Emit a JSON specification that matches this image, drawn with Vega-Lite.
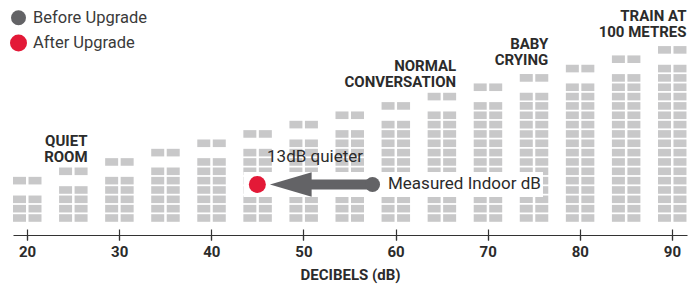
{
  "$schema": "https://vega.github.io/schema/vega-lite/v6.json",
  "width": 674,
  "height": 230,
  "autosize": "none",
  "padding": {"left": 13, "top": 5, "right": 10, "bottom": 49},
  "background": "white",
  "config": {"view": {"stroke": null}, "font": "Roboto"},
  "datasets": {
    "blocks": [
      {"dB":20,"row":0},{"dB":20,"row":1},{"dB":20,"row":2},{"dB":20,"row":4},
      {"dB":25,"row":0},{"dB":25,"row":1},{"dB":25,"row":2},{"dB":25,"row":3},{"dB":25,"row":5},
      {"dB":30,"row":0},{"dB":30,"row":1},{"dB":30,"row":2},{"dB":30,"row":3},{"dB":30,"row":4},{"dB":30,"row":6},
      {"dB":35,"row":0},{"dB":35,"row":1},{"dB":35,"row":2},{"dB":35,"row":3},{"dB":35,"row":4},{"dB":35,"row":5},{"dB":35,"row":7},
      {"dB":40,"row":0},{"dB":40,"row":1},{"dB":40,"row":2},{"dB":40,"row":3},{"dB":40,"row":4},{"dB":40,"row":5},{"dB":40,"row":6},{"dB":40,"row":8},
      {"dB":45,"row":0},{"dB":45,"row":1},{"dB":45,"row":2},{"dB":45,"row":3},{"dB":45,"row":4},{"dB":45,"row":5},{"dB":45,"row":6},{"dB":45,"row":7},{"dB":45,"row":9},
      {"dB":50,"row":0},{"dB":50,"row":1},{"dB":50,"row":2},{"dB":50,"row":3},{"dB":50,"row":4},{"dB":50,"row":5},{"dB":50,"row":6},{"dB":50,"row":7},{"dB":50,"row":8},{"dB":50,"row":10},
      {"dB":55,"row":0},{"dB":55,"row":1},{"dB":55,"row":2},{"dB":55,"row":3},{"dB":55,"row":4},{"dB":55,"row":5},{"dB":55,"row":6},{"dB":55,"row":7},{"dB":55,"row":8},{"dB":55,"row":9},{"dB":55,"row":11},
      {"dB":60,"row":0},{"dB":60,"row":1},{"dB":60,"row":2},{"dB":60,"row":3},{"dB":60,"row":4},{"dB":60,"row":5},{"dB":60,"row":6},{"dB":60,"row":7},{"dB":60,"row":8},{"dB":60,"row":9},{"dB":60,"row":10},{"dB":60,"row":12},
      {"dB":65,"row":0},{"dB":65,"row":1},{"dB":65,"row":2},{"dB":65,"row":3},{"dB":65,"row":4},{"dB":65,"row":5},{"dB":65,"row":6},{"dB":65,"row":7},{"dB":65,"row":8},{"dB":65,"row":9},{"dB":65,"row":10},{"dB":65,"row":11},{"dB":65,"row":13},
      {"dB":70,"row":0},{"dB":70,"row":1},{"dB":70,"row":2},{"dB":70,"row":3},{"dB":70,"row":4},{"dB":70,"row":5},{"dB":70,"row":6},{"dB":70,"row":7},{"dB":70,"row":8},{"dB":70,"row":9},{"dB":70,"row":10},{"dB":70,"row":11},{"dB":70,"row":12},{"dB":70,"row":14},
      {"dB":75,"row":0},{"dB":75,"row":1},{"dB":75,"row":2},{"dB":75,"row":3},{"dB":75,"row":4},{"dB":75,"row":5},{"dB":75,"row":6},{"dB":75,"row":7},{"dB":75,"row":8},{"dB":75,"row":9},{"dB":75,"row":10},{"dB":75,"row":11},{"dB":75,"row":12},{"dB":75,"row":13},{"dB":75,"row":15},
      {"dB":80,"row":0},{"dB":80,"row":1},{"dB":80,"row":2},{"dB":80,"row":3},{"dB":80,"row":4},{"dB":80,"row":5},{"dB":80,"row":6},{"dB":80,"row":7},{"dB":80,"row":8},{"dB":80,"row":9},{"dB":80,"row":10},{"dB":80,"row":11},{"dB":80,"row":12},{"dB":80,"row":13},{"dB":80,"row":14},{"dB":80,"row":16},
      {"dB":85,"row":0},{"dB":85,"row":1},{"dB":85,"row":2},{"dB":85,"row":3},{"dB":85,"row":4},{"dB":85,"row":5},{"dB":85,"row":6},{"dB":85,"row":7},{"dB":85,"row":8},{"dB":85,"row":9},{"dB":85,"row":10},{"dB":85,"row":11},{"dB":85,"row":12},{"dB":85,"row":13},{"dB":85,"row":14},{"dB":85,"row":15},{"dB":85,"row":17},
      {"dB":90,"row":0},{"dB":90,"row":1},{"dB":90,"row":2},{"dB":90,"row":3},{"dB":90,"row":4},{"dB":90,"row":5},{"dB":90,"row":6},{"dB":90,"row":7},{"dB":90,"row":8},{"dB":90,"row":9},{"dB":90,"row":10},{"dB":90,"row":11},{"dB":90,"row":12},{"dB":90,"row":13},{"dB":90,"row":14},{"dB":90,"row":15},{"dB":90,"row":16},{"dB":90,"row":18}
    ],
    "labels": [
      {"text":"QUIET\nROOM","dB":25,"level":6.03},
      {"text":"NORMAL\nCONVERSATION","dB":65,"level":14.06},
      {"text":"BABY\nCRYING","dB":75,"level":16.38},
      {"text":"TRAIN AT\n100 METRES","dB":90,"level":19.41}
    ],
    "readings": [
      {"state":"Before Upgrade","dB":57.5,"level":3.59},
      {"state":"After Upgrade","dB":45,"level":3.59}
    ]
  },
  "resolve": {"axis": {"x": "independent"}},
  "layer": [
    {
      "data": {"name": "blocks"},
      "mark": {"type": "tick", "orient": "horizontal", "size": 13, "thickness": 7.6, "xOffset": -7.5, "color": "#c8c8c9", "opacity": 1},
      "encoding": {
        "x": {"field": "dB", "type": "quantitative",
              "scale": {"domain": [18.48, 91.63], "nice": false, "zero": false},
              "axis": {"values": [20,30,40,50,60,70,80,90], "grid": false, "tickSize": 5, "tickColor": "#333333", "domainColor": "#333333", "domainWidth": 1.2, "tickWidth": 1.2,
                       "labelFont": "Roboto", "labelFontWeight": "bold", "labelFontSize": 15, "labelColor": "#2b2b2b", "labelPadding": 4,
                       "title": "DECIBELS (dB)", "titleFont": "Roboto", "titleFontWeight": "bold", "titleFontSize": 15, "titleColor": "#2b2b2b", "titlePadding": 8}},
        "y": {"field": "row", "type": "quantitative", "scale": {"domain": [-1.82, 22.805], "nice": false, "zero": false}, "axis": null}
      }
    },
    {
      "data": {"name": "blocks"},
      "mark": {"type": "tick", "orient": "horizontal", "size": 13, "thickness": 7.6, "xOffset": 8, "color": "#c8c8c9", "opacity": 1},
      "encoding": {
        "x": {"field": "dB", "type": "quantitative",
              "axis": {"orient": "bottom", "offset": -6, "values": [20,30,40,50,60,70,80,90], "grid": false, "domain": false, "labels": false, "title": null, "tickSize": 11, "tickColor": "#333333", "tickWidth": 1.2}},
        "y": {"field": "row", "type": "quantitative"}
      }
    },
    {
      "data": {"values": [{"from": 43.5, "to": 76, "level": 3.59}]},
      "mark": {"type": "rule", "color": "white", "strokeWidth": 25},
      "encoding": {
        "x": {"field": "from", "type": "quantitative", "axis": null},
        "x2": {"field": "to"},
        "y": {"field": "level", "type": "quantitative"}
      }
    },
    {
      "data": {"values": [{"from": 57.5, "to": 50, "level": 3.59}]},
      "mark": {"type": "rule", "color": "#636366", "strokeWidth": 10},
      "encoding": {
        "x": {"field": "from", "type": "quantitative", "axis": null},
        "x2": {"field": "to"},
        "y": {"field": "level", "type": "quantitative"}
      }
    },
    {
      "data": {"values": [{"dB": 48.63, "level": 3.59}]},
      "mark": {"type": "point", "filled": true, "opacity": 1, "color": "#636366", "size": 1739, "shape": "M -1 0 L 1 -0.585 L 1 0.585 Z"},
      "encoding": {
        "x": {"field": "dB", "type": "quantitative", "axis": null},
        "y": {"field": "level", "type": "quantitative"}
      }
    },
    {
      "data": {"name": "readings"},
      "mark": {"type": "point", "filled": true, "opacity": 1, "shape": "circle"},
      "encoding": {
        "x": {"field": "dB", "type": "quantitative", "axis": null},
        "y": {"field": "level", "type": "quantitative"},
        "color": {"field": "state", "type": "nominal",
                  "scale": {"domain": ["Before Upgrade", "After Upgrade"], "range": ["#636366", "#e31937"]},
                  "legend": {"orient": "none", "legendX": -3, "legendY": 4.5, "title": null, "symbolType": "circle", "symbolSize": 169, "symbolStrokeWidth": 0, "symbolOpacity": 1,
                             "labelFont": "Roboto", "labelFontSize": 16.5, "labelColor": "#3a3a3a", "labelOffset": 6, "rowPadding": 8}},
        "size": {"field": "state", "type": "nominal", "scale": {"domain": ["Before Upgrade", "After Upgrade"], "range": [225, 289]}, "legend": null}
      }
    },
    {
      "data": {"values": [{"text": "13dB quieter", "dB": 51.26, "level": 6.03}]},
      "mark": {"type": "text", "align": "center", "baseline": "alphabetic", "font": "Roboto", "fontSize": 17, "color": "#2b2b2b"},
      "encoding": {
        "x": {"field": "dB", "type": "quantitative", "axis": null},
        "y": {"field": "level", "type": "quantitative"},
        "text": {"field": "text", "type": "nominal"}
      }
    },
    {
      "data": {"values": [{"text": "Measured Indoor dB", "dB": 59.18, "level": 3.59}]},
      "mark": {"type": "text", "align": "left", "baseline": "middle", "font": "Roboto", "fontSize": 17, "color": "#2b2b2b"},
      "encoding": {
        "x": {"field": "dB", "type": "quantitative", "axis": null},
        "y": {"field": "level", "type": "quantitative"},
        "text": {"field": "text", "type": "nominal"}
      }
    },
    {
      "data": {"name": "labels"},
      "mark": {"type": "text", "align": "right", "baseline": "bottom", "dx": 14.5, "dy": -13, "lineBreak": "\n", "lineHeight": 16, "font": "Roboto", "fontWeight": "bold", "fontSize": 15, "color": "#2b2b2b"},
      "encoding": {
        "x": {"field": "dB", "type": "quantitative", "axis": null},
        "y": {"field": "level", "type": "quantitative"},
        "text": {"field": "text", "type": "nominal"}
      }
    }
  ]
}
